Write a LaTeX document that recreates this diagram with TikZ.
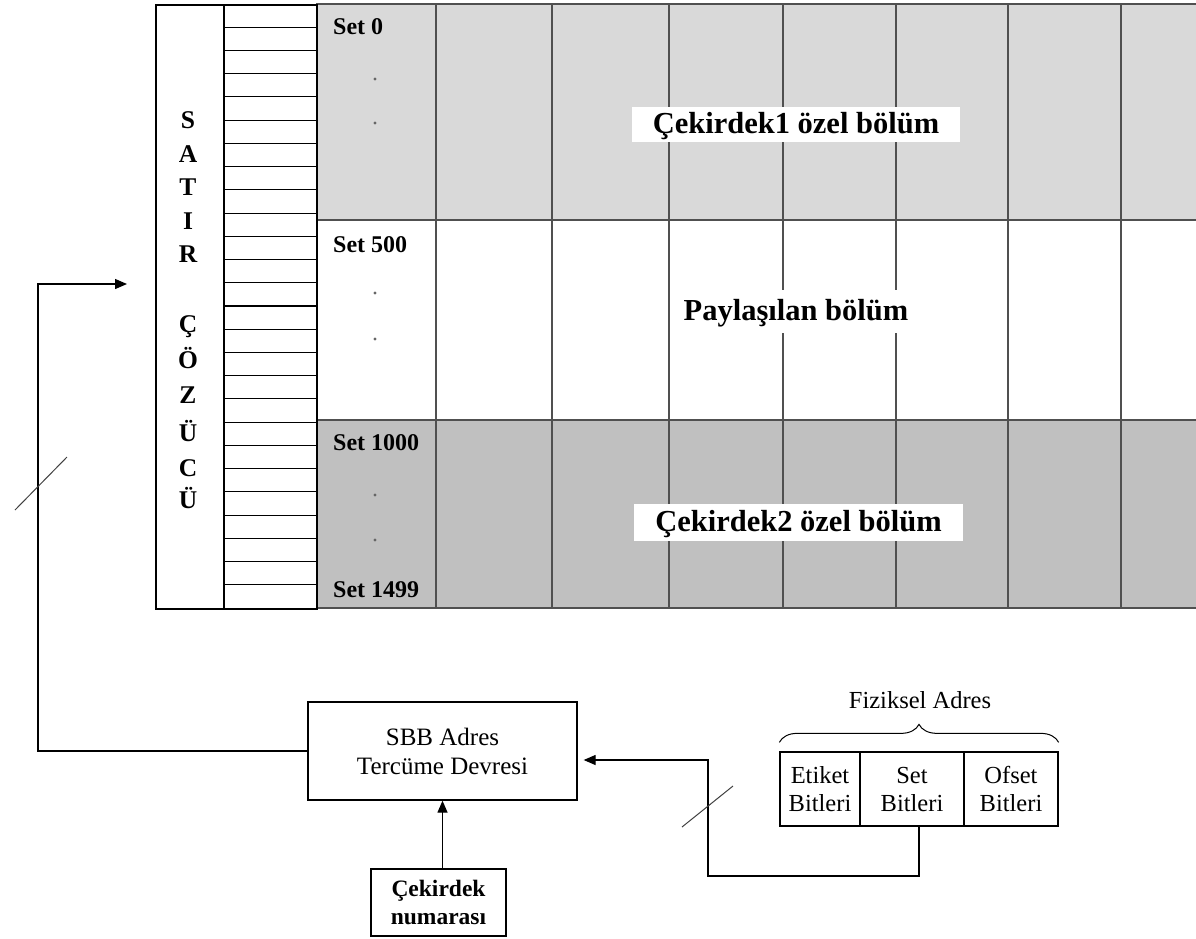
\documentclass[tikz,border=0pt]{standalone}
\usepackage{fontspec}
\setmainfont{Liberation Serif}
\usetikzlibrary{arrows.meta,decorations.pathreplacing}
\definecolor{lightreg}{HTML}{D9D9D9}
\definecolor{darkreg}{HTML}{C0C0C0}
\definecolor{gridc}{HTML}{505050}
\definecolor{slashc}{HTML}{404040}
\begin{document}
\begin{tikzpicture}[x=1pt,y=-1pt,
  gridline/.style={draw=gridc,line width=2pt},
  tickline/.style={draw=black,line width=1.1pt},
  lbl/.style={fill=white,inner sep=0pt,font=\bfseries\fontsize{30.5}{36}\selectfont,text height=22pt,text depth=5pt},
  setlbl/.style={anchor=base west,inner sep=0pt,font=\bfseries\fontsize{24}{28}\selectfont},
  letter/.style={anchor=base,inner sep=0pt,font=\bfseries\fontsize{25.5}{30}\selectfont},
  blockbox/.style={draw,line width=1.3pt,inner sep=0pt,align=center,font=\fontsize{25}{29}\selectfont},
  bitbox/.style={draw,line width=1.3pt,inner sep=0pt,align=center,minimum height=74pt,font=\fontsize{24.5}{28}\selectfont},
  arr/.style={-{Triangle[length=12pt,width=10pt]},line width=1.3pt},
  slash/.style={draw=slashc,line width=1pt},
  dotc/.style={fill=gray!80!black}
]
\useasboundingbox (0,0) rectangle (1196,938);

% regions
\fill[lightreg] (316,4) rectangle (1196,220);
\fill[white] (316,220) rectangle (1196,420);
\fill[darkreg] (316,420) rectangle (1196,608);

% grid
\foreach \x in {436,552,669,783,896,1008,1121}
  \draw[gridline] (\x,4) -- (\x,608);
\foreach \y in {4,220,420,608}
  \draw[gridline] (316,\y) -- (1196,\y);

% decoder
\node[draw,line width=1.5pt,minimum width=161pt,minimum height=604pt,anchor=north west,inner sep=0pt] (dec) at (155,4) {};
\draw[line width=1.5pt] (224,4) -- (224,608);
\foreach \k in {1,...,25}
  \draw[tickline] (224,{4+\k*604/26}) -- (316,{4+\k*604/26});

\foreach \ch/\yy [count=\i] in {S/128,A/162,T/195,I/229,R/262,Ç/332,Ö/368,Z/403,Ü/441,C/476,Ü/508}
  \node[letter] (ch\i) at (188,\yy) {\ch};

% set labels and dots
\node[setlbl] (s0) at (333,34) {Set 0};
\node[setlbl] (s500) at (333,252) {Set 500};
\node[setlbl] (s1000) at (333,450) {Set 1000};
\node[setlbl] (s1499) at (333,597) {Set 1499};
\foreach \yy in {79,123,293,339,495,540}
  \fill[dotc] (375,\yy) circle (1.6pt);

% region labels
\node[lbl,minimum width=328pt,minimum height=35pt] (c1) at (796,124.5) {Çekirdek1 özel bölüm};
\node[lbl,minimum width=248pt,minimum height=43pt] (pay) at (796,311.5) {Paylaşılan bölüm};
\node[lbl,minimum width=329pt,minimum height=37pt] (c2) at (798.5,522.5) {Çekirdek2 özel bölüm};

% bottom blocks
\node[blockbox,minimum width=269pt,minimum height=98pt] (sbb) at (442.5,751) {SBB Adres\\Tercüme Devresi};
\node[blockbox,minimum width=135pt,minimum height=67pt,font=\bfseries\fontsize{23.5}{28}\selectfont] (cek) at (438.5,902.5) {Çekirdek\\numarası};

\node[bitbox,minimum width=80pt] (tag) at (820,789) {Etiket\\Bitleri};
\node[bitbox,minimum width=104pt] (setb) at (912,789) {Set\\Bitleri};
\node[bitbox,minimum width=94pt] (ofs) at (1011,789) {Ofset\\Bitleri};

\draw[decorate,decoration={brace,amplitude=18pt},line width=1pt]
  ([yshift=9pt]tag.north west) -- ([yshift=9pt]ofs.north east);
\node[anchor=base,inner sep=0pt,font=\fontsize{24.5}{29}\selectfont] (fa) at (920,708) {Fiziksel Adres};

% connectors
\coordinate (lc) at (38,284);
\coordinate (decin) at (127,284);
\draw[arr] (sbb.west) -| (lc) -- (decin);

\coordinate (bc) at (708,876);
\draw[arr] ([xshift=7pt]setb.south) |- (bc) |- ([xshift=6pt,yshift=-9pt]sbb.east);

\draw[arr] (sbb.south |- cek.north) -- (sbb.south);

% bus slashes
\draw[slash] (15,510) -- (67,457);
\draw[slash] (682,827) -- (733,786);
\end{tikzpicture}
\end{document}
